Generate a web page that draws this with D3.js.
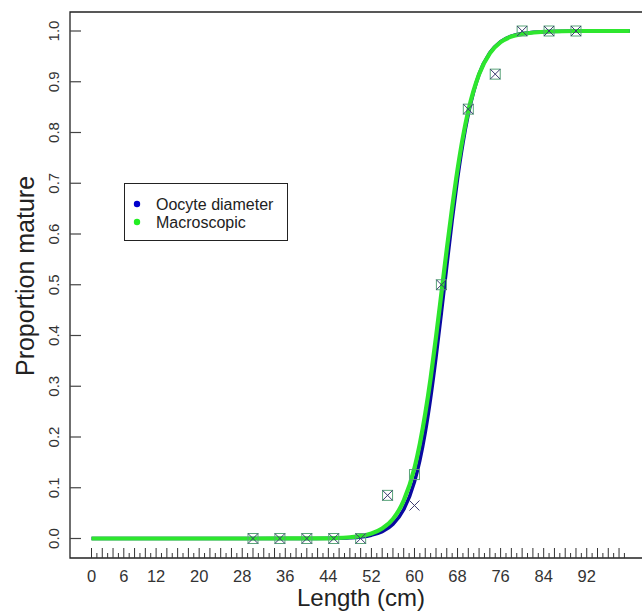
<!DOCTYPE html>
<html>
<head>
<meta charset="utf-8">
<script src="https://cdn.jsdelivr.net/npm/d3@7"></script>
<style>
  html, body { margin: 0; padding: 0; background: #fff; }
  svg { display: block; font-family: "Liberation Sans", Arial, sans-serif; }
</style>
</head>
<body>
<svg id="chart" width="642" height="611"></svg>
<script>
// Observed proportion mature by length class
const lengths = [30, 35, 40, 45, 50, 55, 60, 65, 70, 75, 80, 85, 90];
const oocyteObs = [0, 0, 0, 0, 0, 0.085, 0.065, 0.5, 0.846, 0.915, 1, 1, 1];
const macroObs  = [0, 0, 0, 0, 0, 0.085, 0.126, 0.5, 0.846, 0.915, 1, 1, 1];

// Fitted maturity ogives (length, proportion)
const curveLengths = [0, 10, 20, 30, 40, 45, 48, 50, 52, 54, 56, 58, 60, 61, 62, 63, 64, 65, 66, 67, 68, 69, 70, 72, 74, 76, 78, 80, 85, 90, 95, 100];
const oocyteFit = [0, 0, 0, 0, 0.0001, 0.0005, 0.0015, 0.0031, 0.0065, 0.0135, 0.028, 0.057, 0.112, 0.154, 0.209, 0.277, 0.357, 0.445, 0.537, 0.627, 0.709, 0.779, 0.836, 0.915, 0.957, 0.979, 0.990, 0.995, 0.999, 1, 1, 1];
const macroFit  = [0, 0, 0, 0, 0.0002, 0.0009, 0.0024, 0.0049, 0.0098, 0.0195, 0.0384, 0.0745, 0.139, 0.187, 0.246, 0.316, 0.397, 0.483, 0.570, 0.652, 0.727, 0.791, 0.843, 0.915, 0.956, 0.978, 0.989, 0.994, 0.999, 1, 1, 1];

// Axis ticks and labels
const xMinorTicks = d3.range(0, 100);
const xTickLabels = [0, 6, 12, 20, 28, 36, 44, 52, 60, 68, 76, 84, 92];
const yTicks = [0, 0.1, 0.2, 0.3, 0.4, 0.5, 0.6, 0.7, 0.8, 0.9, 1.0];

const seriesNames = ["Oocyte diameter", "Macroscopic"];
const seriesColors = ["#0a0aa0", "#2ee62e"];
const legendDotColors = ["#0000cc", "#22ee22"];

const svg = d3.select("#chart");

const frame = { left: 70, top: 12, bottom: 558, right: 642 };
const x = d3.scaleLinear().domain([0, 100]).range([91.5, 629.8]);
const y = d3.scaleLinear().domain([0, 1]).range([538.5, 31]);

// Plot frame (left, top, bottom)
svg.append("path")
  .attr("d", `M${frame.right},${frame.top}H${frame.left}V${frame.bottom}H${frame.right}`)
  .attr("fill", "none").attr("stroke", "#222").attr("stroke-width", 1.3);

// Y axis: inward ticks, rotated labels
const yAxis = svg.append("g");
yAxis.selectAll("line").data(yTicks).join("line")
  .attr("x1", frame.left).attr("x2", frame.left + 11)
  .attr("y1", d => y(d)).attr("y2", d => y(d))
  .attr("stroke", "#444").attr("stroke-width", 1.2);
yAxis.selectAll("text").data(yTicks).join("text")
  .attr("transform", d => `translate(59,${y(d)}) rotate(-90)`)
  .attr("text-anchor", "middle")
  .attr("font-size", 15).attr("fill", "#333")
  .text(d => d.toFixed(1));

// X axis: a tick at every centimetre, alternate lengths, inward
const xAxis = svg.append("g");
xAxis.selectAll("line").data(xMinorTicks).join("line")
  .attr("x1", d => x(d)).attr("x2", d => x(d))
  .attr("y1", frame.bottom).attr("y2", d => d % 2 === 0 ? frame.bottom - 10 : frame.bottom - 5)
  .attr("stroke", "#333").attr("stroke-width", 1);
xAxis.selectAll("text").data(xTickLabels).join("text")
  .attr("x", d => x(d)).attr("y", 582)
  .attr("text-anchor", "middle")
  .attr("font-size", 16.5).attr("fill", "#333")
  .text(d => d);

// Axis titles
svg.append("text")
  .attr("x", 361).attr("y", 606)
  .attr("text-anchor", "middle")
  .attr("font-size", 24).attr("fill", "#222")
  .text("Length (cm)");
svg.append("text")
  .attr("transform", "translate(34,276) rotate(-90)")
  .attr("text-anchor", "middle")
  .attr("font-size", 25).attr("fill", "#222")
  .text("Proportion mature");

// Fitted curves
const line = d3.line()
  .x(d => x(d[0])).y(d => y(d[1]))
  .curve(d3.curveMonotoneX);
const fits = [oocyteFit, macroFit];
const widths = [3.5, 4.2];
fits.forEach((vals, i) => {
  svg.append("path")
    .datum(curveLengths.map((L, j) => [L, vals[j]]))
    .attr("d", line)
    .attr("fill", "none")
    .attr("stroke", seriesColors[i])
    .attr("stroke-width", widths[i])
    .attr("stroke-linejoin", "round");
});

// Observed points: squares for macroscopic, crosses for oocyte diameter
const s = 5;
svg.append("g").selectAll("rect").data(lengths).join("rect")
  .attr("x", (d) => x(d) - s).attr("y", (d, i) => y(macroObs[i]) - s)
  .attr("width", 2 * s).attr("height", 2 * s)
  .attr("fill", "none").attr("stroke", "#5aa57a").attr("stroke-width", 1);
svg.append("g").selectAll("path").data(lengths).join("path")
  .attr("d", (d, i) => {
    const cx = x(d), cy = y(oocyteObs[i]);
    return `M${cx - s},${cy - s}L${cx + s},${cy + s}M${cx - s},${cy + s}L${cx + s},${cy - s}`;
  })
  .attr("fill", "none").attr("stroke", "#3a3a6e").attr("stroke-width", 1);

// Legend
const legend = svg.append("g");
legend.append("rect")
  .attr("x", 124.5).attr("y", 183.5).attr("width", 163).attr("height", 57)
  .attr("fill", "#fff").attr("stroke", "#222").attr("stroke-width", 1);
seriesNames.forEach((name, i) => {
  const cy = 204 + i * 18;
  legend.append("circle")
    .attr("cx", 137).attr("cy", cy).attr("r", 3.2)
    .attr("fill", legendDotColors[i]);
  legend.append("text")
    .attr("x", 156).attr("y", cy + 5.5)
    .attr("font-size", 16).attr("fill", "#222")
    .text(name);
});
</script>
</body>
</html>
